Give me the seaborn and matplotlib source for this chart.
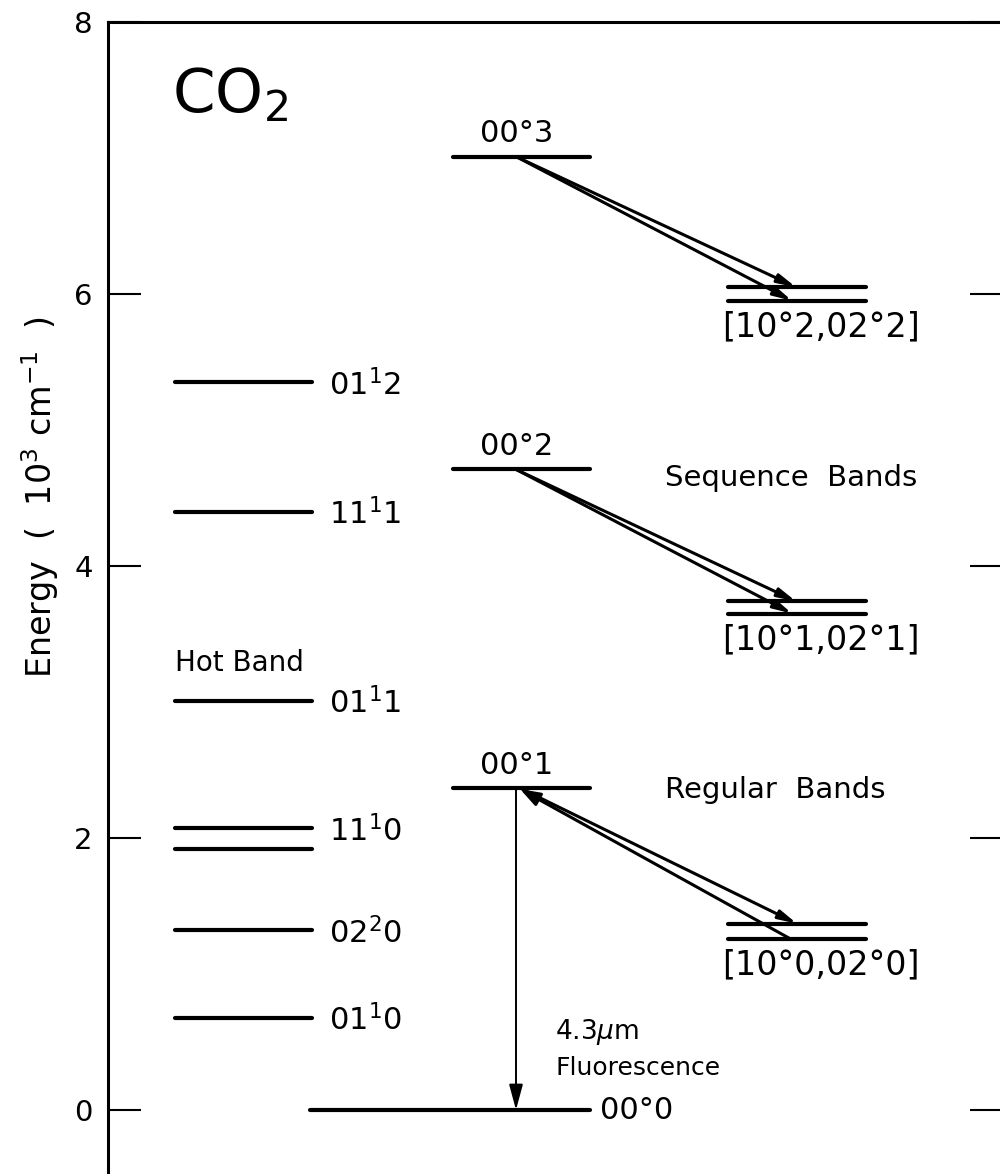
import matplotlib
matplotlib.use("Agg")
import matplotlib.pyplot as plt
import pandas as pd
import seaborn as sns

# CO2 vibrational term values, in units of 10^3 cm^-1
bend_names = ["01$^1$2", "11$^1$1", "01$^1$1", "11$^1$0", "02$^2$0", "01$^1$0"]
bend_energy = [5.35, 4.40, 3.01, 2.07, 1.32, 0.68]
fermi_partner_11_0 = 1.92  # lower component of the 11¹0 pair

stretch_names = ["00°3", "00°2", "00°1"]
stretch_energy = [7.01, 4.71, 2.37]

dyad_names = ["[10°2,02°2]", "[10°1,02°1]", "[10°0,02°0]"]
dyad_upper = [6.05, 3.74, 1.37]
dyad_lower = [5.95, 3.65, 1.26]

ground_name = "00°0"
ground_energy = 0.0

band_titles = ["Hot Band", "Sequence Bands", "Regular Bands"]
y_ticks = [0, 2, 4, 6, 8]

# ---- layout (horizontal columns of the level diagram) ----
BEND_COL = (175, 312)
STRETCH_COL = (453, 590)
DYAD_COL = (728, 866)
GROUND_COL = (310, 590)

sns.set_theme(style="white")
plt.rcParams["font.family"] = ["DejaVu Sans"]
plt.rcParams["mathtext.fontset"] = "dejavusans"
plt.rcParams["text.color"] = "black"

fig = plt.figure(figsize=(10, 11.74), dpi=100)
ax = fig.add_axes([0.108, -0.015, 0.895, 0.9963])

# collect every level as a horizontal segment
rows = []
def add_level(key, col, e):
    rows.append({"level": key, "x": col[0], "E": e})
    rows.append({"level": key, "x": col[1], "E": e})

for n, e in zip(bend_names, bend_energy):
    add_level(n, BEND_COL, e)
add_level("11-0 b", BEND_COL, fermi_partner_11_0)
for n, e in zip(stretch_names, stretch_energy):
    add_level(n, STRETCH_COL, e)
for n, eu, el in zip(dyad_names, dyad_upper, dyad_lower):
    add_level(n + " u", DYAD_COL, eu)
    add_level(n + " l", DYAD_COL, el)
add_level(ground_name, GROUND_COL, ground_energy)
levels = pd.DataFrame(rows)

sns.lineplot(data=levels, x="x", y="E", units="level", estimator=None,
             sort=False, color="black", lw=3.0, legend=False, ax=ax,
             solid_capstyle="round")

fs = 22
# level labels
for n, e in zip(bend_names, bend_energy):
    ax.text(BEND_COL[1] + 17, e - 0.02, n, fontsize=fs, ha="left", va="center")
for n, e in zip(stretch_names, stretch_energy):
    ax.text((STRETCH_COL[0] + STRETCH_COL[1]) / 2 - 5, e + 0.06, n,
            fontsize=fs, ha="center", va="bottom")
for n, el in zip(dyad_names, dyad_lower):
    ax.text(821, el - 0.07, n, fontsize=24, ha="center", va="top")
ax.text(GROUND_COL[1] + 10, ground_energy, ground_name, fontsize=fs,
        ha="left", va="center")

# band titles and molecule
ax.text(175, 3.29, band_titles[0], fontsize=20, ha="left", va="center")
ax.text(665, 4.65, band_titles[1].replace(" ", "  "), fontsize=21, ha="left", va="center")
ax.text(665, 2.35, band_titles[2].replace(" ", "  "), fontsize=21, ha="left", va="center")
ax.text(172, 7.46, "CO$_2$", fontsize=44, ha="left", va="center")

# transitions between the asymmetric-stretch ladder and the Fermi dyads
arrow_kw = dict(arrowstyle="-|>,head_length=0.9,head_width=0.22",
                color="black", lw=2.2, shrinkA=0, shrinkB=0)
for i in range(2):
    e0 = stretch_energy[i]
    ax.annotate("", xy=(796, dyad_upper[i]), xytext=(516, e0), arrowprops=arrow_kw)
    ax.annotate("", xy=(792, dyad_lower[i]), xytext=(516, e0), arrowprops=arrow_kw)
# regular bands: one pointing down, one pointing back up to 00°1
ax.annotate("", xy=(797, dyad_upper[2]), xytext=(522, stretch_energy[2] - 0.01),
            arrowprops=arrow_kw)
ax.annotate("", xy=(520, stretch_energy[2] - 0.01), xytext=(790, dyad_lower[2]),
            arrowprops=dict(arrowstyle="-|>,head_length=1.0,head_width=0.35",
                            color="black", lw=2.2, shrinkA=0, shrinkB=0))

# 4.3 um fluorescence to the ground state
ax.annotate("", xy=(516, ground_energy), xytext=(516, stretch_energy[2]),
            arrowprops=dict(arrowstyle="-|>,head_length=1.3,head_width=0.35",
                            color="black", lw=1.4, shrinkA=0, shrinkB=0))
ax.text(555, 0.57, "4.3$\\mu$m", fontsize=19, ha="left", va="center")
ax.text(555, 0.31, "Fluorescence", fontsize=18, ha="left", va="center")

# axes frame
ax.set_xlim(108, 1003)
ax.set_ylim(-0.6, 8)
ax.set_xticks([])
ax.set_yticks(y_ticks)
ax.set_yticklabels([str(t) for t in y_ticks])
ax.tick_params(axis="y", direction="in", length=24, width=1.5,
               left=True, right=True, labelsize=21, pad=11, colors="black")
for side in ["left", "top", "right", "bottom"]:
    ax.spines[side].set_color("black")
    ax.spines[side].set_linewidth(2.2)
ax.set_xlabel("")
ax.set_ylabel("")
fig.text(0.040, 1 - 497 / 1174, "Energy  (  10$^{3}$ cm$^{-1}$  )",
         rotation=90, ha="center", va="center", fontsize=24)

fig.savefig("out.png", dpi=100, facecolor="white")
